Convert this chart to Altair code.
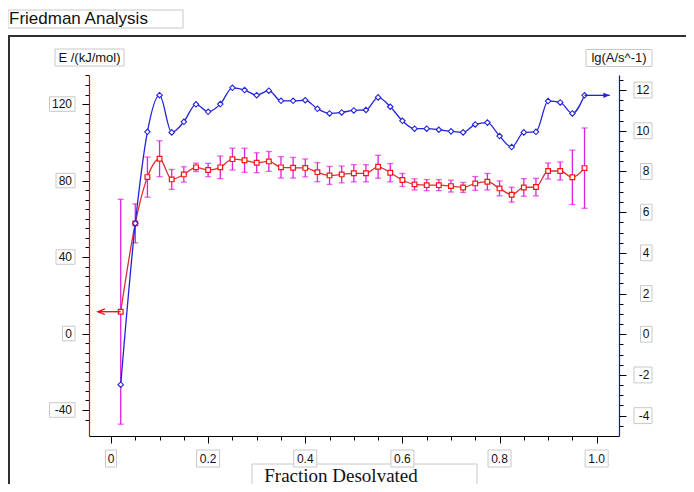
import altair as alt
import pandas as pd

# ---------------- data ----------------
frac = [0.02, 0.05, 0.075, 0.1, 0.125, 0.15, 0.175, 0.2, 0.225, 0.25,
        0.275, 0.3, 0.325, 0.35, 0.375, 0.4, 0.425, 0.45, 0.475, 0.5,
        0.525, 0.55, 0.575, 0.6, 0.625, 0.65, 0.675, 0.7, 0.725, 0.75,
        0.775, 0.8, 0.825, 0.85, 0.875, 0.9, 0.925, 0.95, 0.975]

E_kJ = [11.4, 57.6, 81.8, 91.4, 80.6, 83.2, 86.9, 85.5, 86.9, 91.2,
        90.6, 89.3, 90.0, 86.9, 86.7, 86.6, 84.4, 82.7, 83.2, 83.8,
        83.8, 87.2, 84.1, 80.3, 78.0, 77.6, 77.6, 77.1, 76.4, 78.5,
        79.4, 75.9, 72.6, 76.4, 76.6, 85.0, 85.0, 81.7, 86.5]

E_err = [58.8, 10.2, 10.5, 9.4, 5.2, 4.0, 2.2, 3.5, 5.9, 5.7,
         6.3, 5.2, 5.2, 5.6, 5.4, 4.7, 5.0, 4.7, 4.4, 4.5,
         4.5, 6.0, 4.8, 3.4, 2.9, 2.9, 2.9, 3.1, 2.6, 3.6,
         4.3, 3.9, 3.9, 4.6, 4.6, 4.2, 4.7, 14.2, 21.0]

lgA = [-2.48, 5.45, 9.95, 11.75, 9.92, 10.44, 11.3, 10.93, 11.31, 12.11,
       12.0, 11.75, 11.97, 11.47, 11.47, 11.5, 11.08, 10.85, 10.9, 11.0,
       11.02, 11.64, 11.18, 10.49, 10.1, 10.1, 10.05, 9.97, 9.92, 10.31,
       10.4, 9.74, 9.2, 9.92, 9.95, 11.46, 11.39, 10.85, 11.74]

x_tick_vals = [0, 0.2, 0.4, 0.6, 0.8, 1.0]
x_tick_labels = ["0", "0.2", "0.4", "0.6", "0.8", "1.0"]
E_tick_vals = [-40, 0, 40, 80, 120]
E_tick_labels = ["-40", "0", "40", "80", "120"]
A_tick_vals = [-4, -2, 0, 2, 4, 6, 8, 10, 12]
A_tick_labels = ["-4", "-2", "0", "2", "4", "6", "8", "10", "12"]
x_minor = [round(0.05 * i, 2) for i in range(0, 21)]
E_minor = list(range(-45, 140, 5))
A_minor = [i / 2 for i in range(-9, 26)]

title_text = "Friedman Analysis"
x_title = "Fraction Desolvated"
E_title = "E /(kJ/mol)"
A_title = "lg(A/s^-1)"

# arrow tips (data units) marking which axis each series belongs to
red_tip = -0.027
blue_tip = 1.027

# ---------------- layout / style ----------------
W, H = 530, 361
X_DOM = [-0.0453, 1.046]
E_DOM = [-53.6, 135.2]
A_DOM = [-5.0, 12.74]
RED_LINE = "#d8303a"
RED_MARK = "#ff1010"
MAGENTA = "#e020e0"
BLUE = "#2222dd"
FONT = "Liberation Sans"
BOXC = "#c8c8c8"

df = pd.DataFrame({"f": frac, "E": E_kJ, "err": E_err, "lgA": lgA})

xs = alt.Scale(domain=X_DOM, nice=False, zero=False)
es = alt.Scale(domain=E_DOM, nice=False, zero=False)
as_ = alt.Scale(domain=A_DOM, nice=False, zero=False)


def ax(orient, values, size, domain, dcolor="black"):
    kw = dict(orient=orient, values=values, tickSize=size, labels=False,
              grid=False, title=None, tickColor="black", tickWidth=1,
              domain=domain, zindex=2)
    if domain:
        kw.update(domainColor=dcolor, domainWidth=1.2)
    return alt.Axis(**kw)


base = alt.Chart(df)

# red series (E) with axes carrying minor ticks
red_line = base.mark_line(color=RED_LINE, strokeWidth=1.3, interpolate="monotone").encode(
    x=alt.X("f:Q", scale=xs, axis=ax("bottom", x_minor, 4, True)),
    y=alt.Y("E:Q", scale=es, axis=ax("left", E_minor, 4, True, "#e00000")),
)
err_rule = base.transform_calculate(lo="datum.E - datum.err", hi="datum.E + datum.err").mark_rule(
    color=MAGENTA, strokeWidth=1.3).encode(
    x=alt.X("f:Q", scale=xs, axis=ax("bottom", x_tick_vals, 7, False)),
    y=alt.Y("lo:Q", scale=es, axis=ax("left", E_tick_vals, 7, False)),
    y2="hi:Q",
)
cap_lo = base.transform_calculate(lo="datum.E - datum.err").mark_tick(
    color=MAGENTA, orient="horizontal", size=6, thickness=1.3).encode(
    x=alt.X("f:Q", scale=xs, axis=None),
    y=alt.Y("lo:Q", scale=es, axis=None),
)
cap_hi = base.transform_calculate(hi="datum.E + datum.err").mark_tick(
    color=MAGENTA, orient="horizontal", size=6, thickness=1.3).encode(
    x=alt.X("f:Q", scale=xs, axis=None),
    y=alt.Y("hi:Q", scale=es, axis=None),
)
red_pts = base.mark_point(shape="square", size=22, filled=True, fill="white",
                          stroke=RED_MARK, strokeWidth=1.2, opacity=1).encode(
    x=alt.X("f:Q", scale=xs, axis=None),
    y=alt.Y("E:Q", scale=es, axis=None),
)

# blue series (lg A) with right axis
blue_line = base.mark_line(color=BLUE, strokeWidth=1.3, interpolate="monotone").encode(
    x=alt.X("f:Q", scale=xs, axis=None),
    y=alt.Y("lgA:Q", scale=as_, axis=ax("right", A_minor, 4, True, "#1010ee")),
)
blue_major = base.mark_point(shape="diamond", size=30, filled=True, fill="white",
                             stroke=BLUE, strokeWidth=1.1, opacity=1).encode(
    x=alt.X("f:Q", scale=xs, axis=None),
    y=alt.Y("lgA:Q", scale=as_, axis=ax("right", A_tick_vals, 7, False)),
)

# arrows
red_arrow_df = pd.DataFrame({"x1": [red_tip], "x2": [frac[0]], "y": [E_kJ[0]]})
blue_arrow_df = pd.DataFrame({"x1": [frac[-1]], "x2": [blue_tip], "y": [lgA[-1]]})
red_arrow = alt.Chart(red_arrow_df).mark_rule(color="#e01010", strokeWidth=1.3).encode(
    x=alt.X("x1:Q", scale=xs, axis=None), x2="x2:Q",
    y=alt.Y("y:Q", scale=es, axis=None))
red_head = alt.Chart(red_arrow_df).mark_point(
    shape="M2,-0.8L0,0L2,0.8", size=49, filled=False, color="#e01010", strokeWidth=1.3, opacity=1).encode(
    x=alt.X("x1:Q", scale=xs, axis=None),
    y=alt.Y("y:Q", scale=es, axis=None))
blue_arrow = alt.Chart(blue_arrow_df).mark_rule(color=BLUE, strokeWidth=1.3).encode(
    x=alt.X("x1:Q", scale=xs, axis=None), x2="x2:Q",
    y=alt.Y("y:Q", scale=as_, axis=None))
blue_head = alt.Chart(blue_arrow_df).mark_point(
    shape="M-2,-0.8L0,0L-2,0.8Z", size=42, filled=True, color=BLUE, opacity=1).encode(
    x=alt.X("x2:Q", scale=xs, axis=None),
    y=alt.Y("y:Q", scale=as_, axis=None))

# ---------------- text: tick labels with boxes ----------------
xl = pd.DataFrame({"v": x_tick_vals, "lab": x_tick_labels})
el = pd.DataFrame({"v": E_tick_vals, "lab": E_tick_labels})
al = pd.DataFrame({"v": A_tick_vals, "lab": A_tick_labels})

x_box = alt.Chart(xl).transform_calculate(
    a="datum.v - (length(datum.lab) * 6 + 5) / 2 / 485.7",
    b="datum.v + (length(datum.lab) * 6 + 5) / 2 / 485.7",
).mark_rect(fill="white", stroke=BOXC, strokeWidth=1).encode(
    x=alt.X("a:Q", scale=xs, axis=None), x2="b:Q",
    y=alt.value(375), y2=alt.value(392))
x_txt = alt.Chart(xl).mark_text(font=FONT, fontSize=12, color="#111", align="center",
                                baseline="middle").encode(
    x=alt.X("v:Q", scale=xs, axis=None), y=alt.value(384), text="lab:N")

e_box = alt.Chart(el).transform_calculate(
    a="-14 - (length(datum.lab) * 6.5 + 6)", b="-14",
    lo="datum.v - 3.8", hi="datum.v + 3.8",
).mark_rect(fill="white", stroke=BOXC, strokeWidth=1).encode(
    x=alt.X("a:Q", scale=None, axis=None), x2="b:Q",
    y=alt.Y("lo:Q", scale=es, axis=None), y2="hi:Q")
e_txt = alt.Chart(el).mark_text(font=FONT, fontSize=12, color="#111", align="right",
                                baseline="middle").encode(
    x=alt.value(-17), y=alt.Y("v:Q", scale=es, axis=None), text="lab:N")

a_box = alt.Chart(al).transform_calculate(
    a="563 - (length(datum.lab) * 6.5 + 5)", b="563",
    lo="datum.v - 0.39", hi="datum.v + 0.39",
).mark_rect(fill="white", stroke=BOXC, strokeWidth=1).encode(
    x=alt.X("a:Q", scale=None, axis=None), x2="b:Q",
    y=alt.Y("lo:Q", scale=as_, axis=None), y2="hi:Q")
a_txt = alt.Chart(al).mark_text(font=FONT, fontSize=12, color="#111", align="right",
                                baseline="middle").encode(
    x=alt.value(560.5), y=alt.Y("v:Q", scale=as_, axis=None), text="lab:N")

# ---------------- frame, title and axis titles ----------------
one = pd.DataFrame({"t": [0]})
frame = alt.Chart(one).mark_rect(fill="white", stroke="#303030", strokeWidth=2).encode(
    x=alt.value(-80), x2=alt.value(720), y=alt.value(-39), y2=alt.value(520))


def box(x1, x2, y1, y2):
    return alt.Chart(one).mark_rect(fill="white", stroke=BOXC, strokeWidth=1).encode(
        x=alt.value(x1), x2=alt.value(x2), y=alt.value(y1), y2=alt.value(y2))


def label(text, x, y, size, align="center", font=FONT, baseline="middle"):
    return alt.Chart(one).mark_text(text=text, font=font, fontSize=size, color="#111",
                                    align=align, baseline=baseline).encode(
        x=alt.value(x), y=alt.value(y))


title_box = box(-81, 94, -65, -47)
title_lbl = label(title_text, -80, -56, 17, align="left")
e_tbox = box(-34, 35, -26, -9)
e_tlbl = label(E_title, 0.5, -17.5, 13)
a_tbox = box(497, 563, -25.5, -8.5)
a_tlbl = label(A_title, 530, -17, 13)
x_tbox = box(163, 388, 389, 430)
x_tlbl = label(x_title, 252, 406.5, 19, font="Liberation Serif", baseline="alphabetic")

chart = alt.layer(
    frame, title_box, title_lbl, e_tbox, e_tlbl, a_tbox, a_tlbl, x_tbox, x_tlbl,
    x_box, x_txt, e_box, e_txt, a_box, a_txt,
    red_line, err_rule, cap_lo, cap_hi, red_pts,
    blue_line, blue_major,
    red_arrow, red_head, blue_arrow, blue_head,
).resolve_scale(y="independent").resolve_axis(x="independent", y="independent").properties(
    width=W, height=H,
    padding={"left": 81, "top": 67, "right": 67, "bottom": 48},
    autosize=alt.AutoSizeParams(type="none"),
).configure_view(stroke=None)

chart.save("out.html", embed_options={"renderer": "svg", "actions": False})
